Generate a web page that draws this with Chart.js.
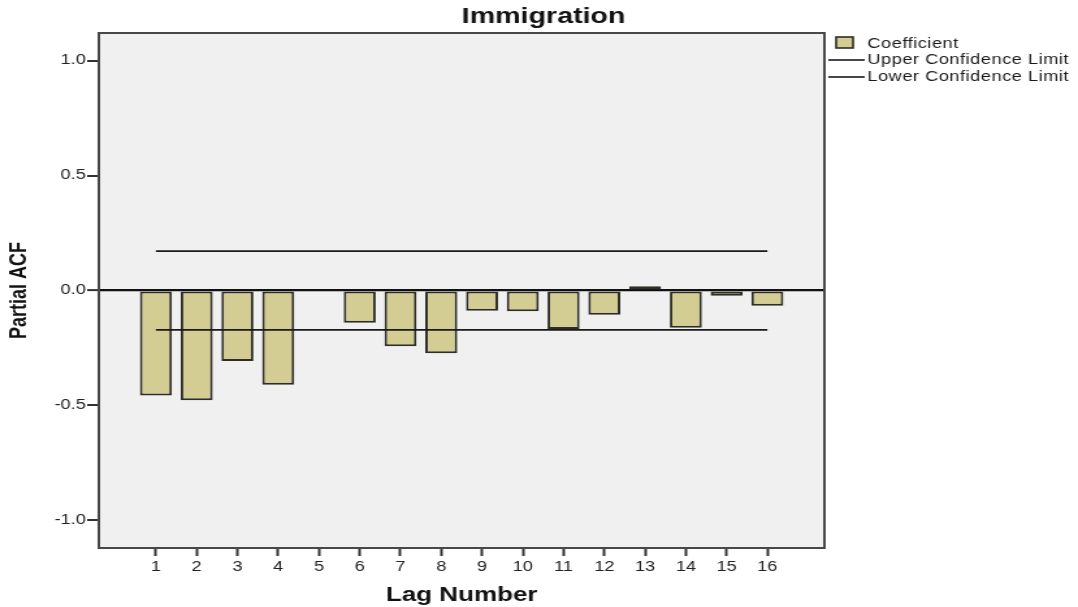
<!DOCTYPE html>
<html>
<head>
<meta charset="utf-8">
<title>Immigration</title>
<script src="https://cdn.jsdelivr.net/npm/chart.js@4.4.1/dist/chart.umd.min.js"></script>
<style>
    html, body { margin: 0; padding: 0; background: #fff; }
</style>
</head>
<body>
<!-- drawn narrow and stretched sideways, like the original export -->
<canvas id="grafica" width="829" height="607" style="width:1078px;height:607px"></canvas>
<script>
const lags = [1, 2, 3, 4, 5, 6, 7, 8, 9, 10, 11, 12, 13, 14, 15, 16];
const coeficientes = [-0.457, -0.477, -0.307, -0.410, 0.0, -0.140, -0.242, -0.273,
                      -0.088, -0.090, -0.167, -0.105, 0.018, -0.162, -0.023, -0.066];
const limiteSup = [0.171, 0.171, 0.171, 0.171, 0.171, 0.171, 0.171, 0.171,
                   0.171, 0.171, 0.171, 0.171, 0.171, 0.171, 0.171, 0.171];
const limiteInf = [-0.171, -0.171, -0.171, -0.171, -0.171, -0.171, -0.171, -0.171,
                   -0.171, -0.171, -0.171, -0.171, -0.171, -0.171, -0.171, -0.171];
const yTicks = [-1.0, -0.5, 0.0, 0.5, 1.0];

const titulo = "Immigration";
const leyenda = ["Coefficient", "Upper Confidence Limit", "Lower Confidence Limit"];

const colorBarra = "#d3cd93";
const colorBorde = "#2e2e26";
const fuente = "'Liberation Sans', Arial, sans-serif";

// fondo gris, marco, titulo y leyenda
const marco = {
    id: "marco",
    beforeDraw(chart) {
        const { ctx, chartArea: a } = chart;
        ctx.save();
        ctx.fillStyle = "#f0f0f0";
        ctx.fillRect(a.left, a.top, a.right - a.left, a.bottom - a.top);
        ctx.restore();
    },
    afterDraw(chart) {
        const { ctx, chartArea: a } = chart;
        ctx.save();
        ctx.strokeStyle = "#484848";
        ctx.lineWidth = 2;
        ctx.strokeRect(a.left, a.top, a.right - a.left, a.bottom - a.top);

        ctx.fillStyle = "#111";
        ctx.font = "bold 22px " + fuente;
        ctx.textAlign = "center";
        ctx.textBaseline = "middle";
        ctx.fillText(titulo, 418, 17);

        ctx.fillStyle = colorBarra;
        ctx.fillRect(643, 37, 13, 11);
        ctx.strokeStyle = colorBorde;
        ctx.lineWidth = 1.6;
        ctx.strokeRect(643, 37, 13, 11);

        ctx.strokeStyle = "#1a1a1a";
        ctx.lineWidth = 1.6;
        [60, 77].forEach(y => {
            ctx.beginPath();
            ctx.moveTo(637, y);
            ctx.lineTo(665, y);
            ctx.stroke();
        });

        ctx.font = "14px " + fuente;
        ctx.letterSpacing = "0.4px";
        ctx.textAlign = "left";
        ctx.fillStyle = "#1a1a1a";
        ctx.fillText(leyenda[0], 667, 44);
        ctx.fillText(leyenda[1], 667, 60);
        ctx.fillText(leyenda[2], 667, 77);
        ctx.restore();
    }
};

const ctx = document.getElementById("grafica").getContext("2d");

const grafica = new Chart(ctx, {
    type: "bar",
    data: {
        datasets: [
            {
                label: leyenda[0],
                data: lags.map((l, i) => ({ x: l, y: coeficientes[i] })),
                backgroundColor: colorBarra,
                borderColor: colorBorde,
                borderWidth: 2,
                borderSkipped: false,
                barPercentage: 0.785,
                categoryPercentage: 1,
                order: 2
            },
            {
                type: "line",
                label: leyenda[1],
                data: lags.map((l, i) => ({ x: l, y: limiteSup[i] })),
                borderColor: "#1a1a1a",
                borderWidth: 1.8,
                pointRadius: 0,
                fill: false,
                order: 1
            },
            {
                type: "line",
                label: leyenda[2],
                data: lags.map((l, i) => ({ x: l, y: limiteInf[i] })),
                borderColor: "#1a1a1a",
                borderWidth: 1.8,
                pointRadius: 0,
                fill: false,
                order: 1
            }
        ]
    },
    options: {
        responsive: false,
        devicePixelRatio: 1,
        animation: false,
        layout: { padding: { top: 33, right: 195, left: 0, bottom: 0 } },
        plugins: {
            legend: { display: false },
            title: { display: false },
            tooltip: { enabled: false }
        },
        scales: {
            x: {
                type: "linear",
                min: -0.4,
                max: 17.4,
                offset: false,
                afterFit: s => { s.height = 59; },
                afterBuildTicks: s => { s.ticks = lags.map(v => ({ value: v })); },
                border: { display: false },
                grid: {
                    offset: false,
                    drawOnChartArea: false,
                    drawTicks: true,
                    tickLength: 8,
                    tickWidth: 2,
                    tickColor: "#333"
                },
                ticks: {
                    color: "#222",
                    padding: 3,
                    maxRotation: 0,
                    autoSkip: false,
                    font: { family: fuente, size: 14 }
                },
                title: {
                    display: true,
                    text: "Lag Number",
                    color: "#111",
                    padding: { top: 0, bottom: 0 },
                    font: { family: fuente, size: 20, weight: "bold" }
                }
            },
            y: {
                min: -1.12,
                max: 1.12,
                afterFit: s => { s.width = 76; },
                afterBuildTicks: s => { s.ticks = yTicks.map(v => ({ value: v })); },
                border: { display: false },
                grid: {
                    drawOnChartArea: true,
                    color: c => (c.tick && c.tick.value === 0 ? "#111" : "transparent"),
                    lineWidth: c => (c.tick && c.tick.value === 0 ? 2.2 : 0),
                    drawTicks: true,
                    tickLength: 9,
                    tickWidth: 2,
                    tickColor: "#333"
                },
                ticks: {
                    color: "#222",
                    padding: 1,
                    callback: v => v.toFixed(1),
                    font: { family: fuente, size: 14 }
                },
                title: {
                    display: true,
                    text: "Partial ACF",
                    color: "#111",
                    padding: { top: 4, bottom: 0 },
                    font: { family: fuente, size: 18, weight: "bold" }
                }
            }
        }
    },
    plugins: [marco]
});
</script>
</body>
</html>
